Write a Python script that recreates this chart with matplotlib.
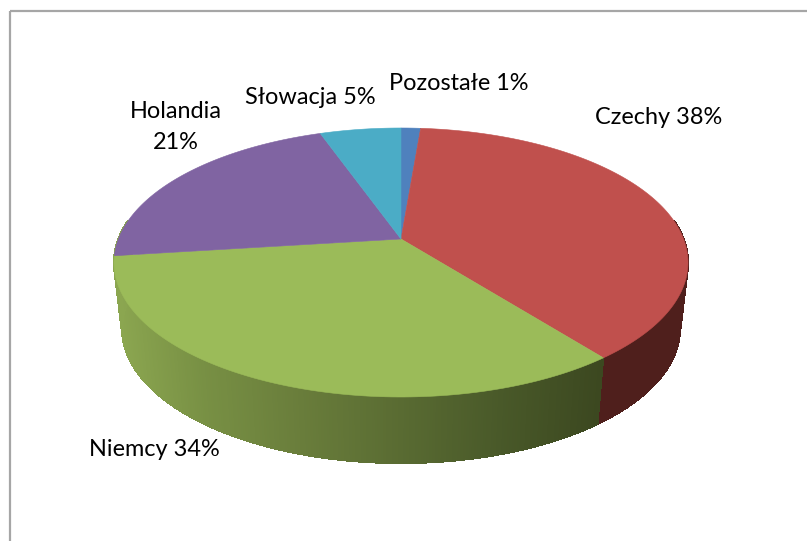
import numpy as np
import matplotlib
matplotlib.use("Agg")
import matplotlib.pyplot as plt
from matplotlib.patches import Polygon, Rectangle
from matplotlib.collections import PolyCollection

# data (clockwise from 12 o'clock)
categories = ["Pozostałe", "Czechy", "Niemcy", "Holandia", "Słowacja"]
values = [1.3, 38.1, 33.6, 21.6, 5.4]
labels = ["Pozostałe 1%", "Czechy 38%", "Niemcy 34%", "Holandia\n21%", "Słowacja 5%"]

top_colors = ["#4f81bd", "#c0504d", "#9bbb59", "#8064a2", "#4bacc6"]

W, H = 807, 541
fig = plt.figure(figsize=(W / 100, H / 100), dpi=100, facecolor="white")
ax = fig.add_axes([0, 0, 1, 1])
ax.set_xlim(0, W)
ax.set_ylim(H, 0)
ax.axis("off")

# perspective projection of the pie disc
CX, CY = 401.0, 239.0
A, P, C = 282.6, 130.4, 0.1747
SHRINK, DEPTH = 0.972, 66.0


def project(theta):
    u, v = np.sin(theta), np.cos(theta)
    d = 1 + C * v
    return CX + A * u / d, CY - P * v / d


def project_low(theta):
    x, y = project(theta)
    return CX + SHRINK * (x - CX), y + DEPTH


def wall_color(x):
    xs = [115, 200, 300, 400, 500, 600]
    rs = [0x8b, 0x78, 0x69, 0x59, 0x49, 0x3c]
    gs = [0xa6, 0x90, 0x7d, 0x6b, 0x59, 0x48]
    bs = [0x50, 0x44, 0x3b, 0x32, 0x29, 0x20]
    return (np.interp(x, xs, rs) / 255, np.interp(x, xs, gs) / 255, np.interp(x, xs, bs) / 255)


edges = np.radians(np.concatenate([[0], np.cumsum(values)]) * 3.6)

# border
ax.add_patch(Rectangle((9.5, 10.5), 1000, 1000, fill=False, ec="#a6a6a6", lw=1.6))

# side wall: front half of the pie only
t_vis = np.linspace(np.radians(82), np.radians(278), 400)
quads, cols = [], []
for t0, t1 in zip(t_vis[:-1], t_vis[1:]):
    tm = (t0 + t1) / 2
    x0, y0 = project(t0)
    x1, y1 = project(t1)
    x2, y2 = project_low(t1)
    x3, y3 = project_low(t0)
    quads.append([(x0, y0), (x1, y1), (x2, y2), (x3, y3)])
    if tm < edges[2]:
        cols.append("#4f1f1c")
    else:
        cols.append(wall_color(project(tm)[0]))
ax.add_collection(PolyCollection(quads, facecolors=cols, edgecolors=cols, linewidths=0.8, antialiaseds=False))

# top surface
for i, col in enumerate(top_colors):
    ts = np.linspace(edges[i], edges[i + 1], 120)
    xs, ys = project(ts)
    pts = np.column_stack([np.r_[CX, xs], np.r_[CY, ys]])
    ax.add_patch(Polygon(pts, closed=True, fc=col, ec=col, lw=0.4))

# labels
font = dict(family="Lato", fontsize=16.9, color="black", ha="center", va="center", linespacing=1.55)
label_pos = [(459, 84), (658.5, 118), (154, 450), (176, 127), (310.5, 98)]
for s, (x, y) in zip(labels, label_pos):
    ax.text(x, y, s, **font)

fig.savefig("out.png", dpi=100, facecolor="white")
